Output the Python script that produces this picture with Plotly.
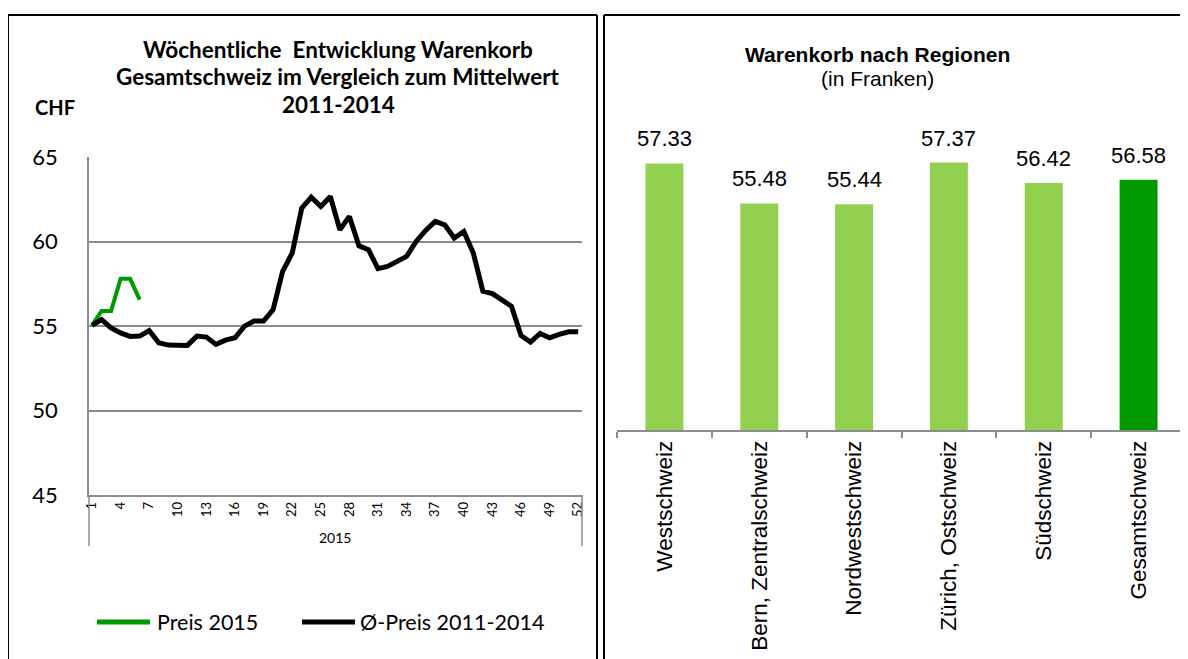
import plotly.graph_objects as go

# ---------------- data ----------------
weeks = list(range(1, 53))
avg_2011_2014 = [55.04, 55.39, 54.90, 54.60, 54.39, 54.41, 54.74, 54.02, 53.88, 53.88,
                 53.86, 54.41, 54.35, 53.92, 54.17, 54.31, 55.00, 55.30, 55.30, 55.98,
                 58.25, 59.33, 61.99, 62.64, 62.09, 62.68, 60.71, 61.50, 59.76, 59.53,
                 58.41, 58.54, 58.84, 59.13, 60.02, 60.67, 61.20, 61.00, 60.22, 60.61,
                 59.33, 57.07, 56.93, 56.54, 56.18, 54.45, 54.06, 54.57, 54.31, 54.51,
                 54.67, 54.67]
weeks_2015 = [1, 2, 3, 4, 5, 6]
price_2015 = [55.04, 55.90, 55.90, 57.80, 57.80, 56.57]
week_ticks = list(range(1, 53, 3))

regions = ["Westschweiz", "Bern, Zentralschweiz", "Nordwestschweiz",
           "Zürich, Ostschweiz", "Südschweiz", "Gesamtschweiz"]
region_values = [57.33, 55.48, 55.44, 57.37, 56.42, 56.58]
region_colors = ["#92D050", "#92D050", "#92D050", "#92D050", "#92D050", "#009900"]

series_names = ["Preis 2015", "Ø-Preis 2011-2014"]
series_colors = ["#009900", "#000000"]

# page body has an 8px margin: figure is placed at (8, 8) in the window
OFF = 8
W, H = 1180, 651
def px(x): return (x - OFF) / W
def py(y): return 1 - (y - OFF) / H

LFONT = "Lato, Carlito, sans-serif"
RFONT = "Liberation Sans, Arial, sans-serif"
GRID = "#8c8c8c"

fig = go.Figure()

fig.add_trace(go.Scatter(x=weeks_2015, y=price_2015, mode="lines", name=series_names[0],
                         line=dict(color=series_colors[0], width=4), xaxis="x", yaxis="y",
                         showlegend=False))
fig.add_trace(go.Scatter(x=weeks, y=avg_2011_2014, mode="lines", name=series_names[1],
                         line=dict(color=series_colors[1], width=5), xaxis="x", yaxis="y",
                         showlegend=False))

fig.add_trace(go.Bar(x=regions, y=region_values, marker=dict(color=region_colors, line=dict(width=0)),
                     showlegend=False, xaxis="x2", yaxis="y2"))

annotations = []
for r, v in zip(regions, region_values):
    annotations.append(dict(x=r, y=v, xref="x2", yref="y2", text=f"{v:.2f}", showarrow=False,
                            yanchor="bottom", yshift=10,
                            font=dict(family=RFONT, size=22, color="#000")))

# left titles
for txt, y in [("Wöchentliche  Entwicklung Warenkorb", 49),
               ("Gesamtschweiz im Vergleich zum Mittelwert", 77),
               ("2011-2014", 104)]:
    annotations.append(dict(x=px(338), y=py(y), xref="paper", yref="paper", text=f"<b>{txt}</b>",
                            showarrow=False, xanchor="center", yanchor="middle",
                            font=dict(family=LFONT, size=22.5, color="#000")))
annotations.append(dict(x=px(55), y=py(107), xref="paper", yref="paper", text="<b>CHF</b>",
                        showarrow=False, xanchor="center", yanchor="middle",
                        font=dict(family=LFONT, size=20, color="#000")))
annotations.append(dict(x=px(335), y=py(537), xref="paper", yref="paper", text="2015",
                        showarrow=False, xanchor="center", yanchor="middle",
                        font=dict(family=LFONT, size=14, color="#000")))
# right titles
annotations.append(dict(x=px(877), y=py(55), xref="paper", yref="paper",
                        text="<b>Warenkorb nach Regionen</b>", showarrow=False,
                        xanchor="center", yanchor="middle",
                        font=dict(family=RFONT, size=21, color="#000")))
annotations.append(dict(x=px(877), y=py(78), xref="paper", yref="paper",
                        text="(in Franken)", showarrow=False,
                        xanchor="center", yanchor="middle",
                        font=dict(family=RFONT, size=21, color="#000")))

shapes = [
    # panel borders (kept inside the paper)
    dict(type="line", xref="paper", yref="paper", x0=px(8), x1=px(8), y0=0, y1=py(15),
         line=dict(color="#000", width=2)),
    dict(type="line", xref="paper", yref="paper", x0=px(8), x1=px(597), y0=py(15), y1=py(15),
         line=dict(color="#000", width=2)),
    dict(type="line", xref="paper", yref="paper", x0=px(597), x1=px(597), y0=0, y1=py(15),
         line=dict(color="#000", width=2)),
    dict(type="line", xref="paper", yref="paper", x0=px(604), x1=px(604), y0=0, y1=py(15),
         line=dict(color="#000", width=2)),
    dict(type="line", xref="paper", yref="paper", x0=px(604), x1=1, y0=py(15), y1=py(15),
         line=dict(color="#000", width=2)),
    # category group dividers below left x-axis
    dict(type="line", xref="paper", yref="paper", x0=px(89), x1=px(89), y0=py(495), y1=py(546),
         line=dict(color=GRID, width=1.5)),
    dict(type="line", xref="paper", yref="paper", x0=px(582), x1=px(582), y0=py(495), y1=py(546),
         line=dict(color=GRID, width=1.5)),
]

# manual legend (line samples + labels)
legend_items = [(97, 150, 155), (302, 355, 358)]
for (x0, x1, tx), name, col in zip(legend_items, series_names, series_colors):
    shapes.append(dict(type="line", xref="paper", yref="paper", x0=px(x0), x1=px(x1),
                       y0=py(622), y1=py(622), line=dict(color=col, width=5)))
    annotations.append(dict(x=px(tx), y=py(622), xref="paper", yref="paper", text=name,
                            showarrow=False, xanchor="left", yanchor="middle",
                            font=dict(family=LFONT, size=21.5, color="#000")))

fig.update_layout(
    width=W, height=H, margin=dict(l=0, r=0, t=0, b=0, autoexpand=False),
    paper_bgcolor="white", plot_bgcolor="white",
    showlegend=False,
    xaxis=dict(domain=[px(89), px(582)], range=[0.685, 52.4], tickvals=week_ticks,
               ticktext=[str(t) for t in week_ticks], tickangle=-90,
               tickfont=dict(family=LFONT, size=13, color="#000"),
               showgrid=False, zeroline=False, showline=True, linecolor=GRID, linewidth=1.5,
               ticks="", ticklen=0, anchor="y", automargin=False),
    yaxis=dict(domain=[py(495), py(157.3)], range=[45, 65], tickvals=[45, 50, 55, 60, 65],
               tickfont=dict(family=LFONT, size=22, color="#000"),
               showgrid=True, gridcolor=GRID, gridwidth=1.5, zeroline=False,
               showline=True, linecolor=GRID, linewidth=1.5, ticks="outside", ticklen=25,
               tickcolor="rgba(0,0,0,0)", anchor="x", automargin=False),
    xaxis2=dict(domain=[px(617), px(1186)], type="category", tickangle=-90,
                tickfont=dict(family=RFONT, size=22.5, color="#000"),
                showgrid=False, zeroline=False, showline=True, linecolor=GRID, linewidth=1.5,
                ticks="outside", tickson="boundaries", ticklen=6, tickcolor=GRID, tickwidth=1.5,
                anchor="y2", automargin=False),
    yaxis2=dict(domain=[py(430), py(105.7)], range=[45, 60], visible=False, anchor="x2",
                automargin=False),
    bargap=0.6,
    annotations=annotations,
    shapes=shapes,
)

fig.write_html("out.html")
